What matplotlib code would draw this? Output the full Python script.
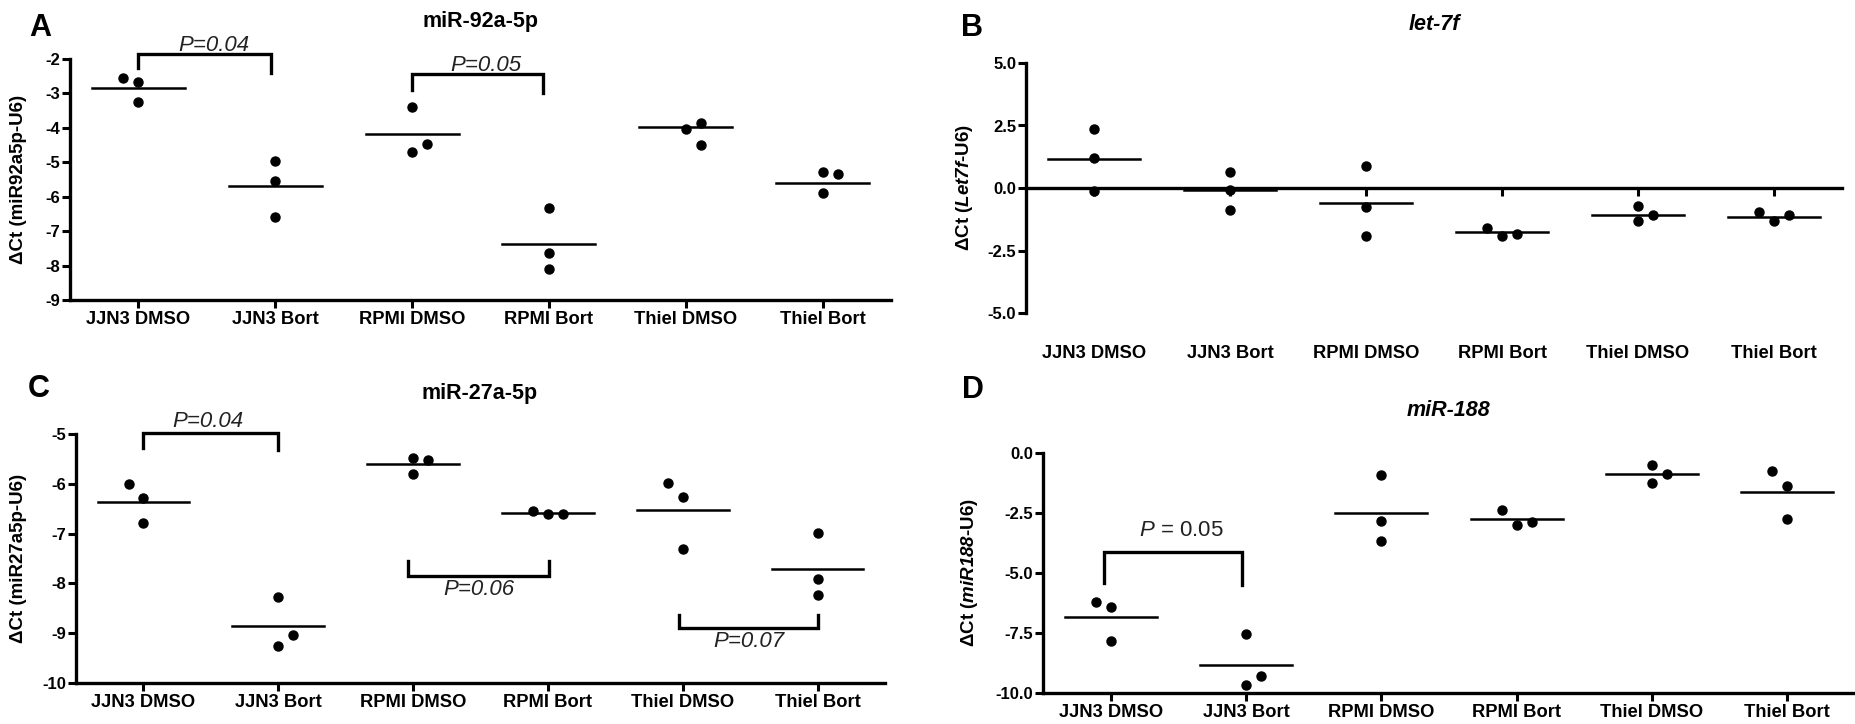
import matplotlib
matplotlib.use("Agg")
import matplotlib.pyplot as plt
from matplotlib.transforms import blended_transform_factory

plt.rcParams['font.family'] = ['Liberation Sans', 'DejaVu Sans']
plt.rcParams['font.weight'] = 'bold'
plt.rcParams['axes.labelweight'] = 'bold'
plt.rcParams['axes.unicode_minus'] = False
plt.rcParams['mathtext.fontset'] = 'custom'
plt.rcParams['mathtext.rm'] = 'Liberation Sans:bold'
plt.rcParams['mathtext.bf'] = 'Liberation Sans:italic:bold'  # italic gene names in labels
plt.rcParams['mathtext.sf'] = 'Liberation Sans:italic:normal'  # italic P in panel D

categories = ["JJN3 DMSO", "JJN3 Bort", "RPMI DMSO", "RPMI Bort", "Thiel DMSO", "Thiel Bort"]

# A: miR-92a-5p
a_points = [[-2.55, -2.66, -3.25], [-4.96, -5.53, -6.58], [-3.39, -4.46, -4.69],
            [-6.34, -7.64, -8.11], [-3.87, -4.04, -4.51], [-5.29, -5.34, -5.90]]
a_means = [-2.83, -5.69, -4.19, -7.38, -3.97, -5.59]
a_yticks = [-2, -3, -4, -5, -6, -7, -8, -9]

# B: let-7f
b_points = [[2.37, 1.20, -0.13], [0.64, -0.07, -0.87], [0.90, -0.76, -1.93],
            [-1.59, -1.91, -1.83], [-0.73, -1.08, -1.33], [-0.97, -1.33, -1.08]]
b_means = [1.16, -0.09, -0.60, -1.77, -1.07, -1.15]
b_yticks = [5.0, 2.5, 0.0, -2.5, -5.0]

# C: miR-27a-5p
c_points = [[-6.00, -6.29, -6.78], [-8.28, -9.04, -9.25], [-5.49, -5.53, -5.80],
            [-6.54, -6.60, -6.60], [-5.99, -6.27, -7.31], [-6.99, -7.91, -8.24]]
c_means = [-6.36, -8.85, -5.61, -6.58, -6.52, -7.71]
c_yticks = [-5, -6, -7, -8, -9, -10]

# D: miR-188
d_points = [[-6.22, -6.40, -7.82], [-7.53, -9.28, -9.65], [-0.90, -2.84, -3.67],
            [-2.39, -2.99, -2.87], [-0.50, -0.88, -1.27], [-0.76, -1.36, -2.75]]
d_means = [-6.83, -8.82, -2.49, -2.76, -0.89, -1.63]
d_yticks = [0.0, -2.5, -5.0, -7.5, -10.0]

# p values for the brackets
a_pvals = ["P=0.04", "P=0.05"]
c_pvals = ["P=0.04", "P=0.06", "P=0.07"]
d_pvals = [r"$\mathsf{P}$ = 0.05"]

# horizontal scatter of the dots (-1 left, 0 centre, 1 right)
a_jit = [[-1, 0, 0], [0, 0, 0], [0, 1, 0], [0, 0, 0], [1, 0, 1], [0, 1, 0]]
b_jit = [[0, 0, 0], [0, 0, 0], [0, 0, 0], [-1, 0, 1], [0, 1, 0], [-1, 0, 1]]
c_jit = [[-1, 0, 0], [0, 1, 0], [0, 1, 0], [-1, 0, 1], [-1, 0, 0], [0, 0, 0]]
d_jit = [[-1, 0, 0], [0, 1, 0], [0, 0, 0], [-1, 0, 1], [0, 1, 0], [-1, 0, 0]]

W, H = 1856, 724
fig = plt.figure(figsize=(W / 100, H / 100), dpi=100)


def px_axes(left, top, right, bottom):
    return fig.add_axes([left / W, 1 - bottom / H, (right - left) / W, (bottom - top) / H])


def draw_panel(ax, points, means, jit, yticks, ylim, fmt):
    for i, (vals, offs) in enumerate(zip(points, jit)):
        xs = [i + 0.11 * o for o in offs]
        ax.plot(xs, vals, 'o', color='black', markersize=6.5, zorder=4, clip_on=False)
        ax.plot([i - 0.34, i + 0.34], [means[i], means[i]], color='black', lw=1.8, zorder=3)
    ax.set_xlim(-0.5, 5.5)
    ax.set_ylim(*ylim)
    ax.set_yticks(yticks)
    ax.set_yticklabels([fmt.format(t) for t in yticks])
    ax.set_xticks(range(len(categories)))
    ax.set_xticklabels(categories)
    for s in ['top', 'right']:
        ax.spines[s].set_visible(False)
    for s in ['left', 'bottom']:
        ax.spines[s].set_linewidth(2.4)
    ax.tick_params(axis='both', width=2.2, length=6, direction='out')
    ax.tick_params(axis='x', labelsize=13.2, pad=2)
    ax.tick_params(axis='y', labelsize=12, pad=1)


def bracket(ax, x0, x1, yh, y0, y1):
    ax.plot([x0, x0, x1, x1], [y0, yh, yh, y1], color='black', lw=2.4, clip_on=False,
            solid_joinstyle='miter', zorder=3)


def pval(ax, x, y, s, style='italic'):
    ax.text(x, y, s, ha='center', va='center', fontsize=16, fontweight='normal',
            style=style, color='#222222', clip_on=False)


# panel A
axA = px_axes(70, 59, 891, 300)
draw_panel(axA, a_points, a_means, a_jit, a_yticks, (-9, -2), "{:d}")
axA.set_ylabel("ΔCt (miR92a5p-U6)", fontsize=13.5)
axA.yaxis.set_label_coords(-0.052, 0.5)
bracket(axA, 0, 0.97, -1.86, -2.27, -2.40)
pval(axA, 0.55, -1.62, a_pvals[0])
bracket(axA, 2, 2.96, -2.44, -2.90, -3.00)
pval(axA, 2.54, -2.20, a_pvals[1])

# panel B
axB = px_axes(1026, 63, 1842, 313)
draw_panel(axB, b_points, b_means, b_jit, b_yticks, (-5, 5), "{:.1f}")
axB.spines['bottom'].set_position(('data', 0))
axB.set_xticklabels([])
tr = blended_transform_factory(axB.transData, axB.transAxes)
for i, c in enumerate(categories):
    axB.text(i, -0.16, c, transform=tr, ha='center', va='center', fontsize=13.2)
axB.set_ylabel(r"ΔCt ($\mathbf{Let7f}$-U6)", fontsize=13.5)
axB.yaxis.set_label_coords(-0.0625, 0.5)

# panel C
axC = px_axes(76, 434, 885, 683)
draw_panel(axC, c_points, c_means, c_jit, c_yticks, (-10, -5), "{:d}")
axC.set_ylabel("ΔCt (miR27a5p-U6)", fontsize=13.5)
axC.yaxis.set_label_coords(-0.061, 0.5)
bracket(axC, 0, 1.0, -4.97, -5.29, -5.33)
pval(axC, 0.48, -4.75, c_pvals[0])
bracket(axC, 1.96, 3.01, -7.86, -7.56, -7.56)
pval(axC, 2.49, -8.13, c_pvals[1])
bracket(axC, 3.97, 5.0, -8.90, -8.63, -8.63)
pval(axC, 4.49, -9.16, c_pvals[2])

# panel D
axD = px_axes(1043, 453, 1855, 693)
draw_panel(axD, d_points, d_means, d_jit, d_yticks, (-10, 0), "{:.1f}")
axD.set_ylabel(r"ΔCt ($\mathbf{miR188}$-U6)", fontsize=13.5)
axD.yaxis.set_label_coords(-0.0775, 0.5)
bracket(axD, -0.05, 0.97, -4.11, -5.40, -5.51)
pval(axD, 0.52, -3.24, d_pvals[0], style='normal')

# titles and panel letters
fig.text(480 / W, 1 - 22 / H, "miR-92a-5p", ha='center', va='center', fontsize=15.5)
fig.text(1434 / W, 1 - 25 / H, "let-7f", ha='center', va='center', fontsize=15.5, style='italic')
fig.text(480 / W, 1 - 393 / H, "miR-27a-5p", ha='center', va='center', fontsize=15.5)
fig.text(1449 / W, 1 - 411 / H, "miR-188", ha='center', va='center', fontsize=15.5, style='italic')
for lab, x, y in [("A", 40, 28), ("B", 972, 28), ("C", 39, 389), ("D", 973, 390)]:
    fig.text(x / W, 1 - y / H, lab, ha='center', va='center', fontsize=22)

fig.savefig("out.png", dpi=100, facecolor='white')
